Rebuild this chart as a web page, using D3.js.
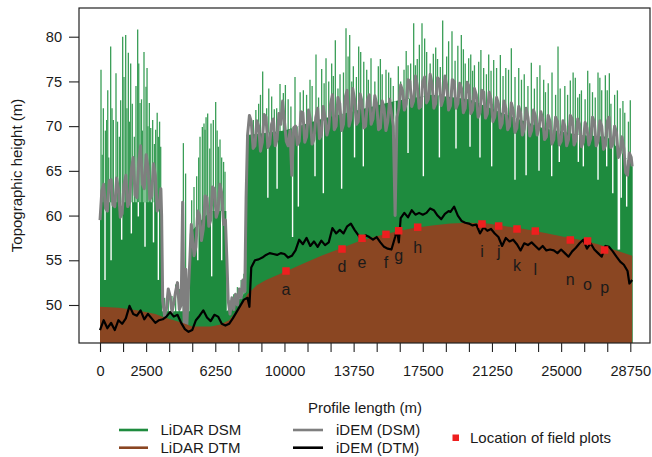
<!DOCTYPE html>
<html><head><meta charset="utf-8">
<script src="https://cdn.jsdelivr.net/npm/d3@7"></script>
<style>
body{margin:0;background:#fff}
svg{display:block}
text{font-family:"Liberation Sans",Arial,Helvetica,sans-serif;fill:#1a1a1a}
</style>
</head><body>
<svg id="c" width="652" height="457"></svg>
<script>
// ---------------- DATA (profile distance in m, height in m) ----------------
// LiDAR DSM: dense canopy body (top of solid green), tall spikes and canopy gaps
const lidarDsmBody = [[0,61.5],[3340,61.5],[3360,49.3],[4850,49.3],[4870,58],[5500,59.5],[6000,60.5],[6850,60.5],[6870,49.3],[7400,50.3],[7920,51.5],[7940,69],[10000,69.5],[12000,70.8],[14000,71.8],[16000,72.8],[18000,73.5],[20000,73],[22000,71.3],[24000,69.8],[26000,69],[27500,68.8],[28300,67],[28880,65.5]];
const lidarDsmSpikes = [[54,76.3],[120,66.8],[181,72.0],[290,69.5],[361,70.7],[420,74.0],[470,66.5],[578,78.9],[650,72.0],[723,70.7],[867,75.9],[950,70.5],[1048,68.8],[1120,72.9],[1229,80.0],[1300,75.5],[1392,80.2],[1460,72.0],[1536,78.2],[1600,70.5],[1663,77.0],[1750,72.5],[1861,68.8],[1950,74.5],[2042,80.8],[2100,77.0],[2169,72.6],[2250,73.0],[2300,69.5],[2385,78.3],[2494,74.4],[2550,76.5],[2600,70.0],[2675,72.6],[2750,69.8],[2855,70.7],[2950,68.0],[3018,69.6],[3100,71.5],[3163,68.8],[3230,70.5],[3290,67.7],
[3500,50.8],[3700,51.5],[3900,51.0],[4100,52.3],[4300,51.8],[4520,68.1],[4640,64.7],
[4970,61.7],[5096,63.2],[5241,64.4],[5350,66.5],[5422,68.8],[5548,69.9],[5638,70.3],[5693,69.6],[5750,71.0],[5837,71.4],[5950,67.5],[6018,70.3],[6144,70.7],[6271,72.7],[6350,69.5],[6415,67.7],[6506,68.5],[6596,66.5],[6700,66.0],[6777,64.9],
[7050,50.5],[7250,51.2],[7450,52.0],[7650,52.8],[7800,53.5],
[8313,70.7],[8450,71.8],[8600,72.5],[8700,73.5],[8819,76.1],[9036,72.0],[9150,74.2],[9307,73.3],[9450,71.9],[9578,72.0],[9759,74.7],[9940,73.7],[10050,74.6],[10200,73.0],[10350,72.2],[10572,75.5],[10850,73.8],[11024,74.0],[11200,73.5],[11385,75.2],[11500,74.5],[11710,78.0],[11850,73.2],[12018,76.4],[12150,74.8],[12253,77.6],[12400,75.0],[12560,77.0],[12650,75.6],[12758,79.6],[12900,74.2],[13012,75.8],[13200,76.0],[13337,80.95],[13450,77.8],[13537,80.2],[13650,75.0],[13735,76.7],[13900,75.5],[14024,78.9],[14133,78.3],[14300,77.2],[14459,76.3],[14550,75.2],[14692,77.6],[14900,75.0],[15089,76.7],[15200,77.5],[15300,75.8],[15505,76.3],[15650,76.0],[15760,75.4],[15900,74.5],[16173,76.7],[16300,75.0],[16482,76.3],[16600,78.4],[16700,76.8],[16843,77.0],[17006,81.5],[17100,76.8],[17200,77.5],[17313,79.1],[17457,81.5],[17600,79.8],[17710,78.3],[17900,77.0],[18071,78.1],[18200,78.8],[18300,77.5],[18450,76.6],[18578,81.8],[18794,77.8],[18900,79.5],[19083,80.6],[19250,77.3],[19400,79.0],[19589,80.2],[19700,78.6],[19800,77.0],[19987,77.6],[20100,78.0],[20200,76.2],[20300,76.8],[20531,77.2],[20650,78.5],[20800,76.5],[20950,75.8],[21073,78.0],[21200,76.2],[21344,77.4],[21500,76.5],[21705,77.96],[21850,75.6],[22000,76.5],[22150,76.3],[22300,78.7],[22500,75.5],[22701,76.5],[22850,75.2],[23000,75.8],[23200,74.5],[23384,77.1],[23550,74.2],[23700,75.5],[23850,76.8],[24054,75.2],[24150,73.8],[24300,74.8],[24506,76.0],[24700,73.5],[24831,78.9],[24950,74.2],[25200,74.5],[25350,73.5],[25498,75.1],[25650,76.0],[25769,75.4],[25900,73.2],[26000,73.6],[26100,74.0],[26300,73.0],[26441,76.2],[26550,74.8],[26700,73.8],[26850,73.2],[26999,76.0],[27100,75.4],[27200,74.0],[27397,75.7],[27500,74.0],[27614,75.9],[27700,72.5],[27900,73.5],[28050,74.0],[28200,72.0],[28350,72.8],[28450,71.5],[28650,70.5],[28750,72.9]];
const lidarDsmGaps = [[271,52.8],[600,55.0],[1174,57.3],[1700,58.0],[2078,59.9],[2440,56.5],[2900,57.0],[3163,52.8],[5300,55.0],[6054,53.2],[6596,55.0],[9100,62.0],[9600,63.0],[10440,57.6],[10753,61.0],[11656,64.4],[12108,62.5],[13100,63.0],[13800,66.5],[14276,65.5],[15993,60.3],[16700,67.0],[17530,64.4],[18400,66.5],[19300,67.5],[20060,67.7],[20600,66.5],[21234,65.5],[22499,64.0],[23100,64.5],[23800,65.0],[24488,64.4],[24900,66.0],[25933,66.0],[26204,65.5],[27000,64.0],[27470,65.5],[27800,62.5],[28100,56.2],[28160,56.2],[28260,62.0],[28553,61.0]];

// LiDAR DTM
const lidarDtm = [[0,49.8],[1000,49.7],[2000,49.4],[3000,49.0],[3500,48.6],[4000,48.3],[4500,48.0],[5000,47.6],[6000,47.6],[6500,47.8],[7000,48.3],[7500,49.6],[8000,51.2],[8500,52.2],[9000,52.8],[10000,53.7],[11000,54.6],[12000,55.5],[13000,56.3],[14000,57.1],[15000,57.7],[16000,58.2],[17000,58.6],[18000,58.9],[19000,59.1],[20000,59.2],[21000,59.1],[22000,58.8],[23000,58.5],[24000,58.1],[25000,57.7],[26000,57.3],[27000,56.8],[28000,56.1],[28850,55.5]];

// iDEM DSM
const idemDsm = [[0,59.5],[100,62.8],[200,63.5],[300,60.8],[400,60.5],[500,63.9],[600,64.0],[700,61.2],[800,61.0],[900,64.2],[1000,63.0],[1100,59.8],[1200,60.2],[1300,63.5],[1400,64.5],[1500,61.0],[1600,61.5],[1700,65.2],[1800,66.5],[1900,62.3],[2000,62.0],[2100,66.0],[2200,67.8],[2300,63.5],[2400,63.0],[2500,66.8],[2600,65.5],[2700,61.8],[2800,62.2],[2900,65.8],[3000,64.5],[3100,60.5],[3200,61.0],[3300,63.0],[3340,60.0],
[3400,50.5],[3500,48.8],[3600,49.6],[3700,51.8],[3800,51.0],[3900,49.2],[4000,50.2],[4100,51.5],[4200,52.5],[4300,49.5],[4400,50.0],[4480,61.5],[4560,48.0],[4650,54.0],[4700,47.5],[4800,52.0],[4870,55.0],
[4950,59.0],[5000,58.0],[5100,55.5],[5200,56.5],[5300,60.5],[5400,60.0],[5500,57.2],[5600,58.5],[5700,62.2],[5800,62.0],[5900,58.8],[6000,59.5],[6100,63.2],[6200,63.0],[6300,59.8],[6400,60.5],[6500,63.5],[6600,62.5],[6700,59.0],[6800,59.5],[6880,55.0],
[6950,50.5],[7050,49.0],[7150,50.8],[7250,49.5],[7350,51.2],[7450,50.0],[7550,51.8],[7650,50.8],[7750,52.8],[7850,51.5],[7920,62.0],
[8000,69.0],[8100,71.2],[8200,70.5],[8300,67.5],[8400,67.8],[8500,70.6],[8600,70.0],[8700,67.2],[8800,68.2],[8900,71.3],[9000,71.0],[9100,67.6],[9200,68.0],[9300,70.2],[9400,70.8],[9500,67.8],[9600,68.5],[9700,71.4],[9800,70.2],[9900,72.8],[10000,70.5],[10100,68.3],[10200,67.8],[10300,69.5],[10400,64.5],[10500,69.8],[10600,70.0],[10700,67.9],[10800,68.3],[10900,71.6],[11000,71.5],[11100,68.2],[11200,68.8],[11300,71.8],[11400,70.8],[11500,68.0],[11600,68.5],[11700,71.0],[11800,72.0],[11900,68.6],[12000,69.0],[12100,72.2],[12200,71.0],[12300,69.0],[12400,69.8],[12500,72.5],[12600,73.5],[12700,69.6],[12800,70.0],[12900,73.2],[13000,72.5],[13100,69.5],[13200,70.2],[13300,73.3],[13400,74.0],[13500,70.0],[13600,70.8],[13700,74.2],[13800,73.0],[13900,70.2],[14000,70.5],[14100,73.6],[14200,72.8],[14300,69.8],[14400,70.0],[14500,72.9],[14600,73.5],[14700,70.2],[14800,70.8],[14900,73.4],[15000,72.5],[15100,69.6],[15200,69.8],[15300,72.8],[15400,72.0],[15500,69.5],[15600,70.5],[15700,73.0],[15800,71.5],[15900,70.0],[16000,60.0],[16100,71.0],[16200,72.0],[16300,74.6],[16400,74.0],[16500,71.8],[16600,72.5],[16700,75.2],[16800,75.0],[16900,72.2],[17000,72.8],[17100,75.6],[17200,74.5],[17300,72.0],[17400,72.2],[17500,75.0],[17600,75.5],[17700,72.6],[17800,73.0],[17900,75.8],[18000,74.8],[18100,72.0],[18200,72.5],[18300,75.4],[18400,75.2],[18500,72.3],[18600,73.0],[18700,75.6],[18800,74.5],[18900,71.8],[19000,72.3],[19100,75.2],[19200,75.0],[19300,72.0],[19400,72.5],[19500,74.8],[19600,74.2],[19700,71.5],[19800,72.0],[19900,74.9],[20000,74.5],[20100,71.4],[20200,71.8],[20300,74.2],[20400,73.5],[20500,71.0],[20600,71.5],[20700,74.0],[20800,73.8],[20900,70.9],[21000,71.4],[21100,73.8],[21200,73.0],[21300,70.5],[21400,71.0],[21500,73.2],[21600,72.5],[21700,69.8],[21800,70.3],[21900,72.8],[22000,72.0],[22100,69.6],[22200,70.0],[22300,72.6],[22400,71.8],[22500,69.3],[22600,69.8],[22700,72.2],[22800,71.5],[22900,69.0],[23000,69.7],[23100,72.0],[23200,71.0],[23300,68.9],[23400,69.5],[23500,71.8],[23600,71.2],[23700,69.0],[23800,69.8],[23900,71.6],[24000,70.8],[24100,68.5],[24200,68.8],[24300,71.2],[24400,70.5],[24500,68.0],[24600,68.5],[24700,71.0],[24800,70.5],[24900,67.9],[25000,68.3],[25100,70.6],[25200,70.0],[25300,67.8],[25400,68.5],[25500,71.2],[25600,70.8],[25700,67.9],[25800,68.4],[25900,70.8],[26000,70.2],[26100,67.7],[26200,68.2],[26300,70.4],[26400,69.8],[26500,67.9],[26600,68.6],[26700,71.0],[26800,70.5],[26900,67.8],[27000,68.3],[27100,70.6],[27200,70.0],[27300,67.4],[27400,67.8],[27500,70.5],[27600,71.0],[27700,67.6],[27800,68.0],[27900,70.0],[28000,69.3],[28100,66.5],[28200,67.0],[28300,68.8],[28400,67.5],[28500,64.8],[28600,64.5],[28700,67.0],[28800,66.5],[28850,65.5]];

// iDEM DTM
const idemDtm = [[0,47.2],[200,48.3],[400,47.4],[600,48.0],[800,47.2],[1000,48.3],[1200,47.9],[1400,48.5],[1600,49.9],[1800,49.0],[2000,48.8],[2200,49.4],[2400,48.4],[2600,49.0],[2800,48.5],[3000,48.0],[3200,48.3],[3400,48.4],[3600,48.7],[3800,49.2],[4000,48.7],[4200,48.9],[4400,48.0],[4600,47.3],[4800,47.0],[5000,47.2],[5200,48.3],[5400,48.8],[5600,49.4],[5800,48.6],[6000,48.2],[6200,48.9],[6400,48.7],[6600,47.9],[6800,47.7],[7000,47.9],[7200,48.5],[7400,49.2],[7600,49.9],[7800,50.6],[8000,50.8],[8100,49.8],[8200,54.2],[8400,55.0],[8600,55.1],[8800,55.3],[9000,55.6],[9200,55.8],[9400,55.7],[9600,55.6],[9800,55.8],[10000,55.7],[10200,55.3],[10400,55.5],[10600,56.1],[10800,57.3],[11000,56.8],[11200,57.5],[11400,56.6],[11600,57.1],[11800,56.5],[12000,57.2],[12200,56.7],[12400,57.0],[12600,58.6],[12800,58.0],[13000,58.4],[13200,58.0],[13400,58.8],[13600,59.1],[13800,58.4],[14000,57.8],[14200,57.2],[14400,57.8],[14600,57.6],[14800,57.3],[15000,57.6],[15200,57.0],[15400,56.5],[15600,56.3],[15800,56.2],[16000,57.6],[16100,58.4],[16200,57.0],[16300,59.7],[16500,60.3],[16700,59.8],[16900,60.6],[17100,60.1],[17300,60.3],[17500,60.1],[17700,60.3],[17900,60.8],[18100,60.6],[18300,60.0],[18500,59.6],[18700,60.2],[18900,60.5],[19000,60.4],[19200,61.0],[19400,60.0],[19600,59.4],[19800,59.2],[20000,59.1],[20200,58.9],[20400,59.0],[20600,58.0],[20800,58.7],[21000,58.3],[21200,58.5],[21400,58.0],[21600,57.6],[21800,56.6],[22000,57.5],[22200,57.1],[22400,57.3],[22600,56.8],[22800,56.1],[23000,56.9],[23200,56.7],[23400,57.0],[23600,56.6],[23800,56.2],[24000,56.6],[24200,56.1],[24400,56.2],[24600,56.1],[24800,55.8],[25000,56.2],[25200,55.8],[25400,55.4],[25600,56.0],[25800,56.4],[26000,56.9],[26200,57.3],[26400,56.3],[26600,56.9],[26800,56.2],[27000,55.8],[27200,55.4],[27400,56.6],[27600,56.5],[27800,56.0],[28000,55.4],[28200,54.85],[28400,54.5],[28600,53.8],[28700,52.4],[28850,52.8]];

// field plots
const plotIds   = ["a","d","e","f","g","h","i","j","k","l","n","o","p"];
const plotDist  = [10084,13120,14205,15505,16193,17222,20710,21614,22608,23600,25498,26433,27356];
const plotElev  = [53.8,56.26,57.46,57.9,58.3,58.7,59.06,58.83,58.5,58.27,57.27,57.16,56.15];
const plotLabelElev = [51.12,53.72,54.10,54.10,54.95,55.84,55.33,55.37,53.83,53.35,52.24,51.68,51.38];

// axes
const xTickStep = 1250;
const xTickMax = 28750;
const xTickLabels = [0,2500,6250,10000,13750,17500,21250,25000,28750];
const yTicks = [50,55,60,65,70,75,80];

// ---------------- DRAWING ----------------
const C = {green:"#1e8b3e", spike:"#3a9e57", brown:"#8a4622", gray:"#7f7f7f", black:"#000", red:"#ee1f1f"};
const svg = d3.select("#c");
const x = d3.scaleLinear().domain([-1139, 29818]).range([79, 650]);
const y = d3.scaleLinear().domain([45.75, 83.21]).range([343, 8]);
const base = y.domain()[0];

svg.append("defs").append("clipPath").attr("id","clip")
  .append("rect").attr("x",79).attr("y",8).attr("width",571).attr("height",335);
const g = svg.append("g").attr("clip-path","url(#clip)");

// spikes
g.append("g").selectAll("line").data(lidarDsmSpikes).join("line")
  .attr("x1",d=>x(d[0])).attr("x2",d=>x(d[0]))
  .attr("y1",y(base)).attr("y2",d=>y(d[1]))
  .attr("stroke",C.spike).attr("stroke-width",1.3);

// body
const area = d3.area().x(d=>x(d[0])).y0(y(base)).y1(d=>y(d[1]));
g.append("path").datum(lidarDsmBody).attr("d",area).attr("fill",C.green);

// canopy gaps (low DSM returns)
const bis = d3.bisector(d=>d[0]).left;
function bodyAt(v){
  const i = Math.max(1, Math.min(lidarDsmBody.length-1, bis(lidarDsmBody, v)));
  const a = lidarDsmBody[i-1], b = lidarDsmBody[i];
  const t = (v-a[0])/(b[0]-a[0]);
  return a[1] + t*(b[1]-a[1]);
}
g.append("g").selectAll("line").data(lidarDsmGaps).join("line")
  .attr("x1",d=>x(d[0])).attr("x2",d=>x(d[0]))
  .attr("y1",d=>y(bodyAt(d[0]))).attr("y2",d=>y(d[1]))
  .attr("stroke","#fff").attr("stroke-width",1.4);

// iDEM DSM
const line = d3.line().x(d=>x(d[0])).y(d=>y(d[1]));
g.append("path").datum(idemDsm).attr("d",line).attr("fill","none")
  .attr("stroke",C.gray).attr("stroke-width",3.0).attr("stroke-linejoin","round");

// LiDAR DTM
g.append("path").datum(lidarDtm).attr("d",area).attr("fill",C.brown);

// iDEM DTM
g.append("path").datum(idemDtm).attr("d",line).attr("fill","none")
  .attr("stroke",C.black).attr("stroke-width",2.2).attr("stroke-linejoin","round");

// field plots
const s = 7.5;
g.append("g").selectAll("rect").data(plotIds).join("rect")
  .attr("x",(d,i)=>x(plotDist[i])-s/2).attr("y",(d,i)=>y(plotElev[i])-s/2)
  .attr("width",s).attr("height",s).attr("fill",C.red);
g.append("g").selectAll("text").data(plotIds).join("text")
  .attr("x",(d,i)=>x(plotDist[i])).attr("y",(d,i)=>y(plotLabelElev[i]))
  .attr("text-anchor","middle").attr("font-size",16).text(d=>d);

// box
svg.append("rect").attr("x",79).attr("y",8).attr("width",571).attr("height",335)
  .attr("fill","none").attr("stroke","#222").attr("stroke-width",1.2);

// axes
const xTicks = d3.range(0, xTickMax + 1, xTickStep);
const xa = svg.append("g").attr("transform","translate(0,343)")
  .call(d3.axisBottom(x).tickValues(xTicks).tickSize(9).tickPadding(14)
    .tickFormat(d=>xTickLabels.includes(d)?String(d):""));
xa.select(".domain").remove();
xa.selectAll("line").attr("stroke","#222").attr("stroke-width",1.1);
xa.selectAll("text").attr("font-size",14.6).attr("font-family",null).style("fill","#1a1a1a");

const ya = svg.append("g").attr("transform","translate(79,0)")
  .call(d3.axisLeft(y).tickValues(yTicks).tickSize(10).tickPadding(7));
ya.select(".domain").remove();
ya.selectAll("line").attr("stroke","#222").attr("stroke-width",1.1);
ya.selectAll("text").attr("font-size",14.6).attr("font-family",null).style("fill","#1a1a1a");

svg.append("text").attr("x",365).attr("y",413).attr("text-anchor","middle")
  .attr("font-size",15).text("Profile length (m)");
svg.append("text").attr("transform","translate(22,175.5) rotate(-90)")
  .attr("text-anchor","middle").attr("font-size",15).text("Topographic height (m)");

// legend
const leg = [
  {lab:"LiDAR DSM", col:C.green, x1:119, x2:148, ly:430, tx:160.5, ty:435},
  {lab:"LiDAR DTM", col:C.brown, x1:119, x2:148, ly:447.7, tx:160.5, ty:453.2},
  {lab:"iDEM (DSM)", col:C.gray, x1:293, x2:323, ly:430, tx:336, ty:435},
  {lab:"iDEM (DTM)", col:C.black, x1:293, x2:323, ly:447.7, tx:336, ty:453.2}
];
const lg = svg.append("g");
lg.selectAll("line").data(leg).join("line")
  .attr("x1",d=>d.x1).attr("x2",d=>d.x2).attr("y1",d=>d.ly).attr("y2",d=>d.ly)
  .attr("stroke",d=>d.col).attr("stroke-width",2.6);
lg.selectAll("text").data(leg).join("text")
  .attr("x",d=>d.tx).attr("y",d=>d.ty).attr("font-size",15).text(d=>d.lab);
lg.append("rect").attr("x",452.5).attr("y",434.5).attr("width",6.5).attr("height",6.5).attr("fill",C.red);
lg.append("text").attr("x",470).attr("y",442.7).attr("font-size",15).text("Location of field plots");
</script>
</body></html>
